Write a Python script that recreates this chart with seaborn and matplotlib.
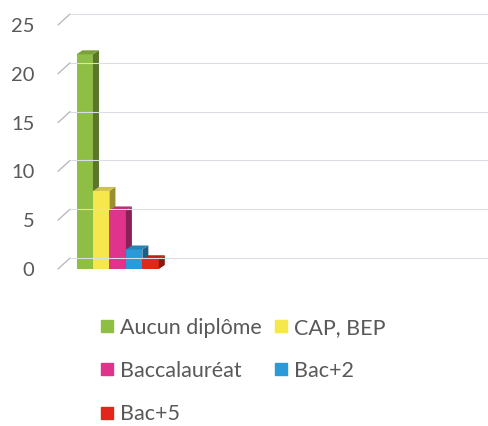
import numpy as np
import pandas as pd
import matplotlib
matplotlib.use("Agg")
import matplotlib.pyplot as plt
from matplotlib.patches import Polygon
from matplotlib.lines import Line2D
from matplotlib.transforms import IdentityTransform
import matplotlib.colors as mcolors
import seaborn as sns

# data
diplomes = ["Aucun diplôme", "CAP, BEP", "Baccalauréat", "Bac+2", "Bac+5"]
valeurs = [22, 8, 6, 2, 1]
couleurs = ["#8fbe45", "#f6e74c", "#e0338c", "#2a9ad8", "#e2261c"]
yticks = [0, 5, 10, 15, 20, 25]

sns.set_theme(style="white")
plt.rcParams["font.family"] = ["Lato", "DejaVu Sans"]

df = pd.DataFrame({"groupe": ["A"] * len(diplomes), "diplome": diplomes, "valeur": valeurs})

fig = plt.figure(figsize=(4.88, 4.26), dpi=100)
W, H = 488, 426
ax = fig.add_axes([58 / W, 1 - 269 / H, (488 - 58) / W, (269 - 25) / H])

sns.barplot(data=df, x="groupe", y="valeur", hue="diplome", hue_order=diplomes,
            palette=couleurs, width=0.8, saturation=1, legend=False, ax=ax,
            edgecolor="none", linewidth=0)

ax.set_ylim(0, 25)
ax.set_xlim(-0.58, 3.6)
ax.set_xlabel("")
ax.set_ylabel("")
ax.set_xticks([])
ax.set_yticks(yticks)
ax.tick_params(axis="y", length=0, pad=17, labelsize=14.5, colors="#595959")
for s in ax.spines.values():
    s.set_visible(False)

fig.canvas.draw()
to_disp = ax.transData.transform
ident = IdentityTransform()

# back wall grid, offset in pixels
gdx, gdy = 12, 11
for t in yticks:
    x0, y0 = ax.transAxes.transform((0, 0))[0], to_disp((0, t))[1]
    fig.add_artist(Line2D([x0, x0 + gdx], [y0, y0 + gdy], transform=None,
                          color="#b4b4bc", lw=0.9))
    fig.add_artist(Line2D([x0 + gdx, W], [y0 + gdy, y0 + gdy], transform=None,
                          color="#dcdce4", lw=0.8))

# fake 3D faces for each bar, drawn left to right so the next bar hides the side
bdx, bdy = 6, 4
bars = sorted(ax.patches, key=lambda p: p.get_x())
for i, (p, c) in enumerate(zip(bars, couleurs)):
    x, w, h = p.get_x(), p.get_width(), p.get_height()
    (xl, yb) = to_disp((x, 0))
    (xr, yt) = to_disp((x + w, h))
    rgb = np.array(mcolors.to_rgb(c))
    p.set_zorder(10 + 3 * i)
    side = Polygon([(xr, yb), (xr + bdx, yb + bdy), (xr + bdx, yt + bdy), (xr, yt)],
                   closed=True, transform=ident, facecolor=rgb * 0.62, edgecolor="none",
                   zorder=11 + 3 * i, clip_on=False)
    top = Polygon([(xl, yt), (xr, yt), (xr + bdx, yt + bdy), (xl + bdx, yt + bdy)],
                  closed=True, transform=ident, facecolor=rgb * 0.85, edgecolor="none",
                  zorder=12 + 3 * i, clip_on=False)
    ax.add_artist(side)
    ax.add_artist(top)

# legend, order so columns read row by row like the original
handles = {d: Line2D([], [], marker="s", ls="none", markersize=8.5, color=c)
           for d, c in zip(diplomes, couleurs)}
order = ["Aucun diplôme", "Baccalauréat", "Bac+5", "CAP, BEP", "Bac+2"]
fig.legend([handles[d] for d in order], order, ncol=2, frameon=False,
           loc="upper left", bbox_to_anchor=(90 / W, 1 - 307 / H),
           fontsize=15.5, labelcolor="#595959", handlelength=0.6, handletextpad=0.3,
           labelspacing=1.08, columnspacing=0.6, borderpad=0)

fig.savefig("out.png", dpi=100)
